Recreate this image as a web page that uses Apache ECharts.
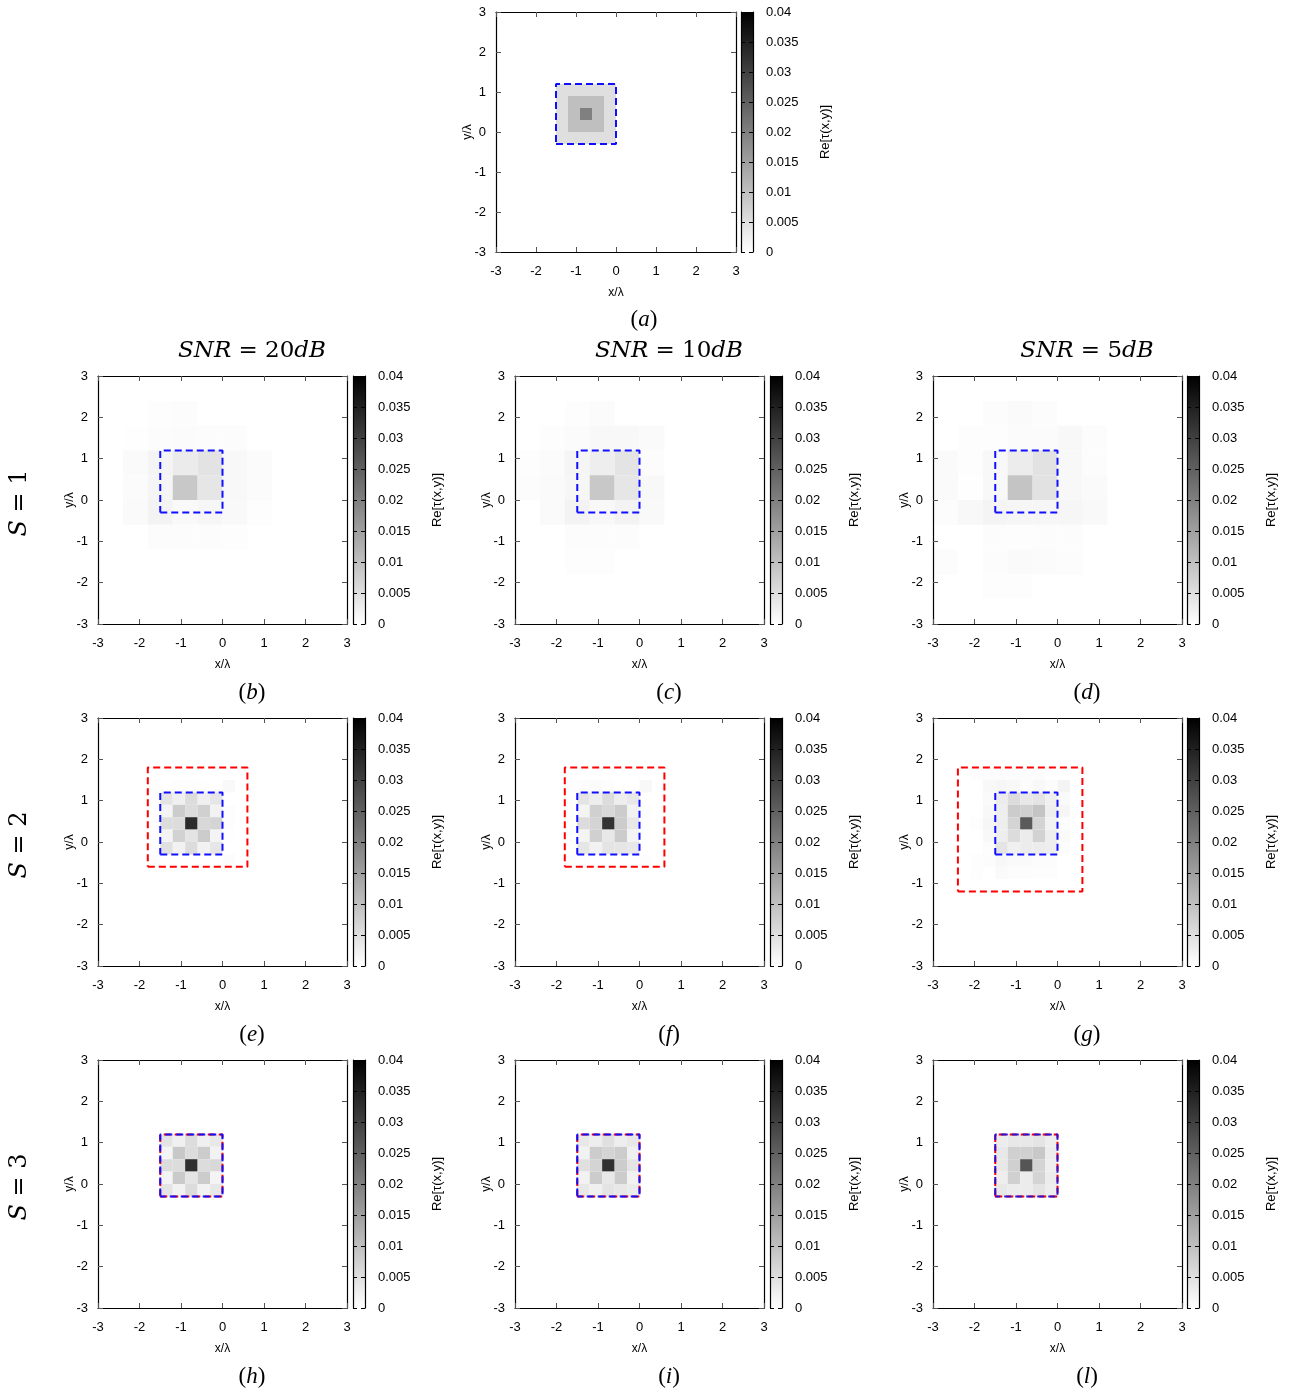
<!DOCTYPE html>
<html><head><meta charset="utf-8">
<script src="https://cdn.jsdelivr.net/npm/echarts@6/dist/echarts.min.js"></script>
<style>html,body{margin:0;padding:0;background:#fff}#c{width:1293px;height:1399px}</style>
</head><body><div id="c"></div>
<script>
// ---------- data ----------
const axisTicks = [-3, -2, -1, 0, 1, 2, 3];
const cbTicks = [0, 0.005, 0.01, 0.015, 0.02, 0.025, 0.03, 0.035, 0.04];
const colTitles = ['20dB', '10dB', '5dB'];
const rowLabels = ['1', '2', '3'];
const captions = ['a', 'b', 'c', 'd', 'e', 'f', 'g', 'h', 'i', 'l'];

// object support (blue) and investigation domains (red), in lambda units
const blueBox = [[-1.5, -0.3], [0, -0.3], [0, 1.2], [-1.5, 1.2], [-1.5, -0.3]];
const redBoxS2 = [[-1.8, -0.6], [0.6, -0.6], [0.6, 1.8], [-1.8, 1.8], [-1.8, -0.6]];
const redBoxS3 = [[-2.4, -1.2], [0.6, -1.2], [0.6, 1.8], [-2.4, 1.8], [-2.4, -1.2]];

// cell grids: rows listed top to bottom; meta = [x of first column, y of top row (lower edge), cell size]
const metaA = [-1.5, 0.9, 0.3];
const valsA = [
  [.005, .005, .005, .005, .005],
  [.005, .01, .01, .01, .005],
  [.005, .01, .02, .01, .005],
  [.005, .01, .01, .01, .005],
  [.005, .005, .005, .005, .005]
];
const metaS1 = [-3, 1.8, 0.6];
const valsB = [
  [0, 0, .0003, .0005, 0, 0, 0],
  [0, .0002, .0005, .0006, .0005, .0005, 0],
  [0, .0008, .0017, .0031, .0044, .0011, .0006],
  [0, .0006, .0016, .0086, .0039, .0011, .0006],
  [0, .0008, .0019, .0009, .0014, .0009, .0003],
  [0, 0, .0005, .0005, .0005, .0003, 0],
  [0, 0, 0, 0, 0, 0, 0],
  [0, 0, 0, 0, 0, 0, 0]
];
const valsC = [
  [0, 0, .0003, .0006, 0, 0, 0],
  [0, .0003, .0006, .0011, .0011, .0008, 0],
  [.0003, .0006, .0016, .0027, .0042, .0005, 0],
  [.0005, .0008, .0014, .0086, .0039, .0011, 0],
  [0, .0008, .0019, .0011, .0019, .0009, 0],
  [0, 0, .0005, .0005, .0005, 0, 0],
  [0, 0, .0003, .0003, 0, 0, 0],
  [0, 0, 0, 0, 0, 0, 0]
];
const valsD = [
  [0, 0, .0005, .0008, .0005, 0, 0],
  [0, .0003, .0003, .0006, .0006, .0011, .0005],
  [.0008, .0003, .0011, .0030, .0045, .0011, .0005],
  [.0008, .0002, .0011, .0093, .0045, .0011, .0008],
  [.0005, .0011, .0017, .0014, .0014, .0014, .0009],
  [0, 0, .0005, .0003, .0005, .0005, 0],
  [.0005, 0, .0005, .0008, .0006, .0005, 0],
  [0, 0, .0003, .0003, 0, 0, 0]
];
const metaS2 = [-2.1, 1.5, 0.3];
const valsE = [
  [0, 0, 0, 0, 0, 0, 0, 0],
  [0, .0003, 0, .0003, .0003, .0002, 0, .0009],
  [0, 0, .0042, .0024, .0055, .0024, .0039, 0],
  [0, 0, .0017, .0080, .0055, .0074, .0020, .0003],
  [0, 0, .0055, .0055, .0331, .0061, .0067, .0003],
  [0, 0, .0017, .0071, .0042, .0080, .0017, .0002],
  [0, 0, .0049, .0020, .0055, .0020, .0039, 0],
  [0, .0003, 0, 0, 0, 0, 0, .0005],
  [0, 0, 0, 0, 0, 0, 0, 0]
];
const valsF = [
  [0, 0, 0, 0, 0, 0, 0, 0],
  [0, .0003, .0005, .0006, .0003, 0, 0, .0011],
  [0, 0, .0042, .0027, .0055, .0027, .0036, 0],
  [0, 0, .0017, .0074, .0061, .0080, .0020, .0003],
  [0, 0, .0055, .0067, .0320, .0080, .0036, .0002],
  [0, 0, .0017, .0074, .0036, .0080, .0017, .0002],
  [0, 0, .0039, .0020, .0042, .0039, .0036, 0],
  [0, .0003, .0002, 0, 0, 0, 0, .0003],
  [0, 0, 0, 0, 0, 0, 0, 0]
];
const valsG = [
  [.0003, .0005, .0005, .0005, .0005, .0005, 0, 0],
  [0, .0011, .0014, .0011, .0005, .0011, .0005, .0017],
  [0, .0008, .0030, .0055, .0036, .0042, .0024, .0008],
  [0, .0011, .0027, .0080, .0074, .0093, .0027, .0014],
  [.0003, .0014, .0027, .0067, .0259, .0067, .0020, .0005],
  [0, .0011, .0027, .0055, .0030, .0071, .0027, .0008],
  [0, .0005, .0042, .0024, .0030, .0030, .0027, .0005],
  [.0003, .0005, .0011, .0008, .0008, .0005, .0005, 0],
  [.0003, 0, .0008, .0005, .0005, .0003, .0003, 0]
];
const metaS3 = [-1.5, 0.9, 0.3];
const valsH = [
  [.0042, .0024, .0055, .0024, .0036],
  [.0017, .0086, .0055, .0080, .0020],
  [.0055, .0055, .0325, .0055, .0061],
  [.0017, .0083, .0042, .0080, .0017],
  [.0042, .0020, .0055, .0020, .0036]
];
const valsI = [
  [.0036, .0027, .0049, .0027, .0036],
  [.0020, .0080, .0067, .0080, .0024],
  [.0049, .0067, .0325, .0080, .0042],
  [.0020, .0080, .0036, .0080, .0020],
  [.0036, .0024, .0042, .0036, .0030]
];
const valsL = [
  [.0030, .0036, .0036, .0042, .0027],
  [.0036, .0074, .0074, .0086, .0030],
  [.0036, .0074, .0267, .0067, .0027],
  [.0027, .0074, .0030, .0067, .0030],
  [.0036, .0030, .0030, .0042, .0027]
];

// ---------- layout ----------
const SANS = "'Liberation Sans', Arial, sans-serif";
const SERIF = "'Liberation Serif', 'DejaVu Serif', serif";
const MATH = "'DejaVu Serif', 'Liberation Serif', serif";
const colLeft = [98, 515, 933], cbLeft = [353, 770, 1187], rowTop = [376, 718, 1060];
const PW = 249, PH = 248, CBW = 12;
const capX = [252, 669, 1087], capY = [693, 1035, 1377];

function toCells(vals, meta) {
  const out = [];
  const [x0, yTop, s] = meta;
  vals.forEach((row, r) => row.forEach((v, c) => {
    if (v > 0) out.push([Math.round((x0 + c * s) * 10) / 10, Math.round((yTop - r * s) * 10) / 10, v, s]);
  }));
  return out;
}

const panels = [
  { left: 496, top: 12, w: 240, h: 240, cb: 741, vals: valsA, meta: metaA, boxes: [[blueBox, '#1010ff', 0]] },
  { left: colLeft[0], top: rowTop[0], w: PW, h: PH, cb: cbLeft[0], vals: valsB, meta: metaS1, boxes: [[blueBox, '#1010ff', 0]] },
  { left: colLeft[1], top: rowTop[0], w: PW, h: PH, cb: cbLeft[1], vals: valsC, meta: metaS1, boxes: [[blueBox, '#1010ff', 0]] },
  { left: colLeft[2], top: rowTop[0], w: PW, h: PH, cb: cbLeft[2], vals: valsD, meta: metaS1, boxes: [[blueBox, '#1010ff', 0]] },
  { left: colLeft[0], top: rowTop[1], w: PW, h: PH, cb: cbLeft[0], vals: valsE, meta: metaS2, boxes: [[redBoxS2, '#ff0000', 0], [blueBox, '#1010ff', 0]] },
  { left: colLeft[1], top: rowTop[1], w: PW, h: PH, cb: cbLeft[1], vals: valsF, meta: metaS2, boxes: [[redBoxS2, '#ff0000', 0], [blueBox, '#1010ff', 0]] },
  { left: colLeft[2], top: rowTop[1], w: PW, h: PH, cb: cbLeft[2], vals: valsG, meta: metaS2, boxes: [[redBoxS3, '#ff0000', 0], [blueBox, '#1010ff', 0]] },
  { left: colLeft[0], top: rowTop[2], w: PW, h: PH, cb: cbLeft[0], vals: valsH, meta: metaS3, boxes: [[blueBox, '#ff0000', 0], [blueBox, '#1010ff', 1.5]] },
  { left: colLeft[1], top: rowTop[2], w: PW, h: PH, cb: cbLeft[1], vals: valsI, meta: metaS3, boxes: [[blueBox, '#ff0000', 0], [blueBox, '#1010ff', 1.5]] },
  { left: colLeft[2], top: rowTop[2], w: PW, h: PH, cb: cbLeft[2], vals: valsL, meta: metaS3, boxes: [[blueBox, '#ff0000', 0], [blueBox, '#3010d0', 2]] }
];

const grids = [], xAxes = [], yAxes = [], series = [], heatIdx = [];
const lblStyle = { color: '#000', fontSize: 13, fontFamily: SANS };
function frameAxis(extra) {
  return Object.assign({
    type: 'value', min: axisTicks[0], max: axisTicks[axisTicks.length - 1], interval: axisTicks[1] - axisTicks[0],
    axisLine: { show: true, onZero: false, lineStyle: { color: '#000', width: 1.2 } },
    axisTick: { show: true, inside: true, length: 5, lineStyle: { color: '#555', width: 1 } },
    splitLine: { show: false }, z: 10
  }, extra);
}
function cellItem(params, api) {
  const x = api.value(0), y = api.value(1), s = api.value(3);
  const p0 = api.coord([x, y + s]), p1 = api.coord([x + s, y]);
  return { type: 'rect', shape: { x: p0[0], y: p0[1], width: p1[0] - p0[0], height: p1[1] - p0[1] }, style: { fill: api.visual('color') } };
}
function barItem(params, api) {
  const p0 = api.coord([0, api.value(1)]), p1 = api.coord([1, api.value(0)]);
  return {
    type: 'rect', shape: { x: p0[0], y: p0[1], width: p1[0] - p0[0], height: p1[1] - p0[1] },
    style: { fill: new echarts.graphic.LinearGradient(0, 0, 0, 1, [{ offset: 0, color: '#000' }, { offset: 1, color: '#fff' }]) }
  };
}

panels.forEach(p => {
  const gi = grids.length;
  grids.push({ left: p.left, top: p.top, width: p.w, height: p.h, outerBoundsMode: 'none', containLabel: false });
  const xb = xAxes.length;
  xAxes.push(frameAxis({
    gridIndex: gi, position: 'bottom',
    axisLabel: Object.assign({ margin: 13, showMinLabel: true, showMaxLabel: true }, lblStyle),
    name: 'x/λ', nameLocation: 'middle', nameGap: 35, nameMoveOverlap: false,
    nameTextStyle: { color: '#000', fontSize: 12, fontFamily: SANS }
  }));
  xAxes.push(frameAxis({ gridIndex: gi, position: 'top', axisLabel: { show: false } }));
  const yb = yAxes.length;
  yAxes.push(frameAxis({
    gridIndex: gi, position: 'left',
    axisLabel: Object.assign({ margin: 10, showMinLabel: true, showMaxLabel: true }, lblStyle),
    name: 'y/λ', nameLocation: 'middle', nameGap: 22, nameRotate: 90, nameMoveOverlap: false,
    nameTextStyle: { color: '#000', fontSize: 12, fontFamily: SANS }
  }));
  yAxes.push(frameAxis({ gridIndex: gi, position: 'right', axisLabel: { show: false } }));
  series.push({ type: 'custom', xAxisIndex: xb, yAxisIndex: yb, data: toCells(p.vals, p.meta), renderItem: cellItem, clip: true, silent: true, z: 1, animation: false });
  heatIdx.push(series.length - 1);
  p.boxes.forEach(([pts, col, off]) => {
    series.push({
      type: 'line', xAxisIndex: xb, yAxisIndex: yb, data: pts, symbol: 'none', silent: true, z: 3, animation: false,
      lineStyle: { color: col, width: 2, type: [7, 4], dashOffset: off }
    });
  });
  // colour bar
  const ci = grids.length;
  grids.push({ left: p.cb, top: p.top, width: CBW, height: p.h, outerBoundsMode: 'none', containLabel: false });
  const cx = xAxes.length;
  xAxes.push({ gridIndex: ci, type: 'value', min: 0, max: 1, show: false });
  const cy = yAxes.length;
  const cbAxis = {
    type: 'value', min: cbTicks[0], max: cbTicks[cbTicks.length - 1], interval: cbTicks[1] - cbTicks[0],
    axisLine: { show: true, onZero: false, lineStyle: { color: '#000', width: 1.2 } },
    axisTick: { show: true, inside: true, length: 4, lineStyle: { color: '#000', width: 1 } },
    splitLine: { show: false }, z: 10
  };
  yAxes.push(Object.assign({}, cbAxis, {
    gridIndex: ci, position: 'right',
    axisLabel: Object.assign({ margin: 13, showMinLabel: true, showMaxLabel: true }, lblStyle),
    name: 'Re[τ(x,y)]', nameLocation: 'middle', nameGap: 66, nameRotate: 90, nameMoveOverlap: false,
    nameTextStyle: { color: '#000', fontSize: 13, fontFamily: SANS }
  }));
  yAxes.push(Object.assign({}, cbAxis, { gridIndex: ci, position: 'left', axisLabel: { show: false } }));
  series.push({ type: 'custom', xAxisIndex: cx, yAxisIndex: cy, data: [[cbTicks[0], cbTicks[cbTicks.length - 1]]], renderItem: barItem, silent: true, z: 1, animation: false });
});

// ---------- text ----------
const graphics = [];
function mathText(x, y, text, size, rot, fam) {
  const f = fam || SERIF;
  graphics.push({
    type: 'text', x: x, y: y, rotation: rot || 0, silent: true,
    style: {
      text: text, align: 'center', verticalAlign: 'middle', fill: '#000',
      fontSize: size, fontFamily: f,
      rich: { i: { fontStyle: 'italic', fontSize: size, fontFamily: f, fill: '#000' }, n: { fontSize: size, fontFamily: f, fill: '#000' } }
    }
  });
}
mathText(644, 320, '{n|(}{i|' + captions[0] + '}{n|)}', 23);
for (let r = 0; r < 3; r++) for (let c = 0; c < 3; c++) {
  mathText(capX[c], capY[r], '{n|(}{i|' + captions[1 + r * 3 + c] + '}{n|)}', 23);
}
colTitles.forEach((t, c) => {
  const m = t.match(/^(\d+)(dB)$/);
  mathText(capX[c], 351, '{i|SNR} {n|= ' + m[1] + '}{i|' + m[2] + '}', 23, 0, MATH);
});
rowLabels.forEach((s, r) => mathText(20, rowTop[r] + PH / 2 + 3, '{i|S} {n|= ' + s + '}', 24, Math.PI / 2, MATH));

const chart = echarts.init(document.getElementById('c'), null, { renderer: 'canvas' });
chart.setOption({
  animation: false,
  backgroundColor: '#fff',
  grid: grids, xAxis: xAxes, yAxis: yAxes, series: series,
  visualMap: { type: 'continuous', show: false, min: cbTicks[0], max: cbTicks[cbTicks.length - 1], dimension: 2, seriesIndex: heatIdx, inRange: { color: ['#ffffff', '#000000'] } },
  graphic: graphics
});
</script></body></html>
